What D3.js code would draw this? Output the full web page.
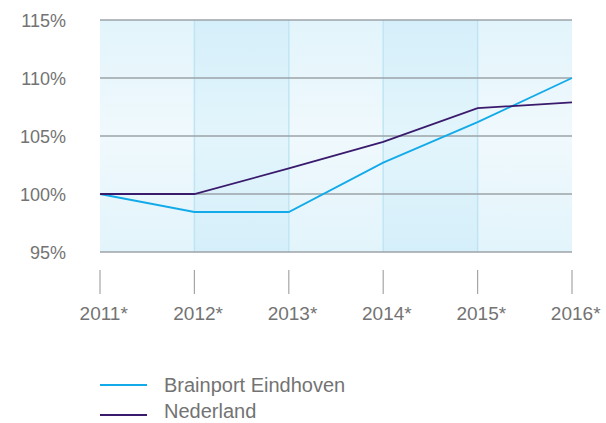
<!DOCTYPE html>
<html>
<head>
<meta charset="utf-8">
<script src="https://cdn.jsdelivr.net/npm/d3@7"></script>
<style>
  body { margin: 0; background: #fff; }
  text { font-family: "Liberation Sans", Arial, sans-serif; fill: #737373; }
</style>
</head>
<body>
<div id="chart"></div>
<script>
// data
const years = ["2011*", "2012*", "2013*", "2014*", "2015*", "2016*"];
const brainport = [100, 98.45, 98.45, 102.7, 106.2, 110];
const nederland = [100, 100, 102.2, 104.5, 107.4, 107.9];
const yTicks = [95, 100, 105, 110, 115];
const seriesNames = ["Brainport Eindhoven", "Nederland"];
const seriesColors = ["#12aae9", "#3a1a6c"];

const width = 606, height = 423;
const plotLeft = 100, plotRight = 572, plotTop = 20, plotBottom = 252;

let svg = d3.select("#chart").append("svg")
    .attr("width", width)
    .attr("height", height);

let x = d3.scalePoint().domain(years).range([plotLeft, plotRight]);
let y = d3.scaleLinear().domain([95, 115]).range([plotBottom, plotTop]);

// gradients for the background bands
let defs = svg.append("defs");
function grad(id, edge, mid) {
    let g = defs.append("linearGradient").attr("id", id)
        .attr("x1", 0).attr("y1", 0).attr("x2", 0).attr("y2", 1);
    g.append("stop").attr("offset", "0%").attr("stop-color", edge);
    g.append("stop").attr("offset", "50%").attr("stop-color", mid);
    g.append("stop").attr("offset", "100%").attr("stop-color", edge);
}
grad("light", "#e2f4fb", "#f0f9fd");
grad("dark", "#d5effa", "#e3f5fc");

// one band per year interval, every second one darker
let bands = years.slice(0, -1);
svg.selectAll(".band")
    .data(bands)
    .enter()
    .append("rect")
    .attr("x", d => x(d))
    .attr("y", y(115))
    .attr("width", x.step())
    .attr("height", y(95) - y(115))
    .attr("fill", (d, i) => i % 2 === 1 ? "url(#dark)" : "url(#light)");

// band separators
svg.selectAll(".sep")
    .data(years.slice(1, -1))
    .enter()
    .append("line")
    .attr("x1", d => x(d)).attr("x2", d => x(d))
    .attr("y1", y(115)).attr("y2", y(95))
    .attr("stroke", "#bfe5f4")
    .attr("stroke-width", 1.5);

// horizontal grid lines
svg.selectAll(".grid")
    .data(yTicks)
    .enter()
    .append("line")
    .attr("x1", plotLeft).attr("x2", plotRight)
    .attr("y1", d => y(d)).attr("y2", d => y(d))
    .attr("stroke", "#9ba3a7")
    .attr("stroke-width", 1.5);

// y labels
svg.selectAll(".ylab")
    .data(yTicks)
    .enter()
    .append("text")
    .attr("x", 66)
    .attr("y", d => y(d) + 6.5)
    .attr("text-anchor", "end")
    .style("font-size", "18px")
    .text(d => d + "%");

// x ticks and labels
svg.selectAll(".xtick")
    .data(years)
    .enter()
    .append("line")
    .attr("x1", d => x(d)).attr("x2", d => x(d))
    .attr("y1", 270).attr("y2", 294)
    .attr("stroke", "#a5a5a5")
    .attr("stroke-width", 1.2);

// the year digits sit centred on the tick, the asterisk hangs after them
svg.selectAll(".xlab")
    .data(years)
    .enter()
    .append("text")
    .attr("x", d => x(d))
    .attr("y", 320)
    .attr("text-anchor", "middle")
    .style("font-size", "19px")
    .text(d => d.replace("*", ""))
    .each(function (d) {
        let w = this.getComputedTextLength();
        svg.append("text")
            .attr("x", x(d) + w / 2)
            .attr("y", 320)
            .style("font-size", "19px")
            .text("*");
    });

// lines
let line = d3.line()
    .x((d, i) => x(years[i]))
    .y(d => y(d));

[brainport, nederland].forEach((s, i) => {
    svg.append("path")
        .datum(s)
        .attr("fill", "none")
        .attr("stroke", seriesColors[i])
        .attr("stroke-width", 1.8)
        .attr("d", line);
});

// legend
let legend = svg.selectAll(".legend")
    .data(seriesNames)
    .enter()
    .append("g")
    .attr("transform", (d, i) => "translate(100," + (385 + i * 30) + ")");

legend.append("line")
    .attr("x1", 0).attr("x2", 47)
    .attr("stroke", (d, i) => seriesColors[i])
    .attr("stroke-width", 2);

legend.append("text")
    .attr("x", 64)
    .attr("y", (d, i) => i === 0 ? 7 : 3)
    .style("font-size", "20px")
    .text(d => d);
</script>
</body>
</html>
